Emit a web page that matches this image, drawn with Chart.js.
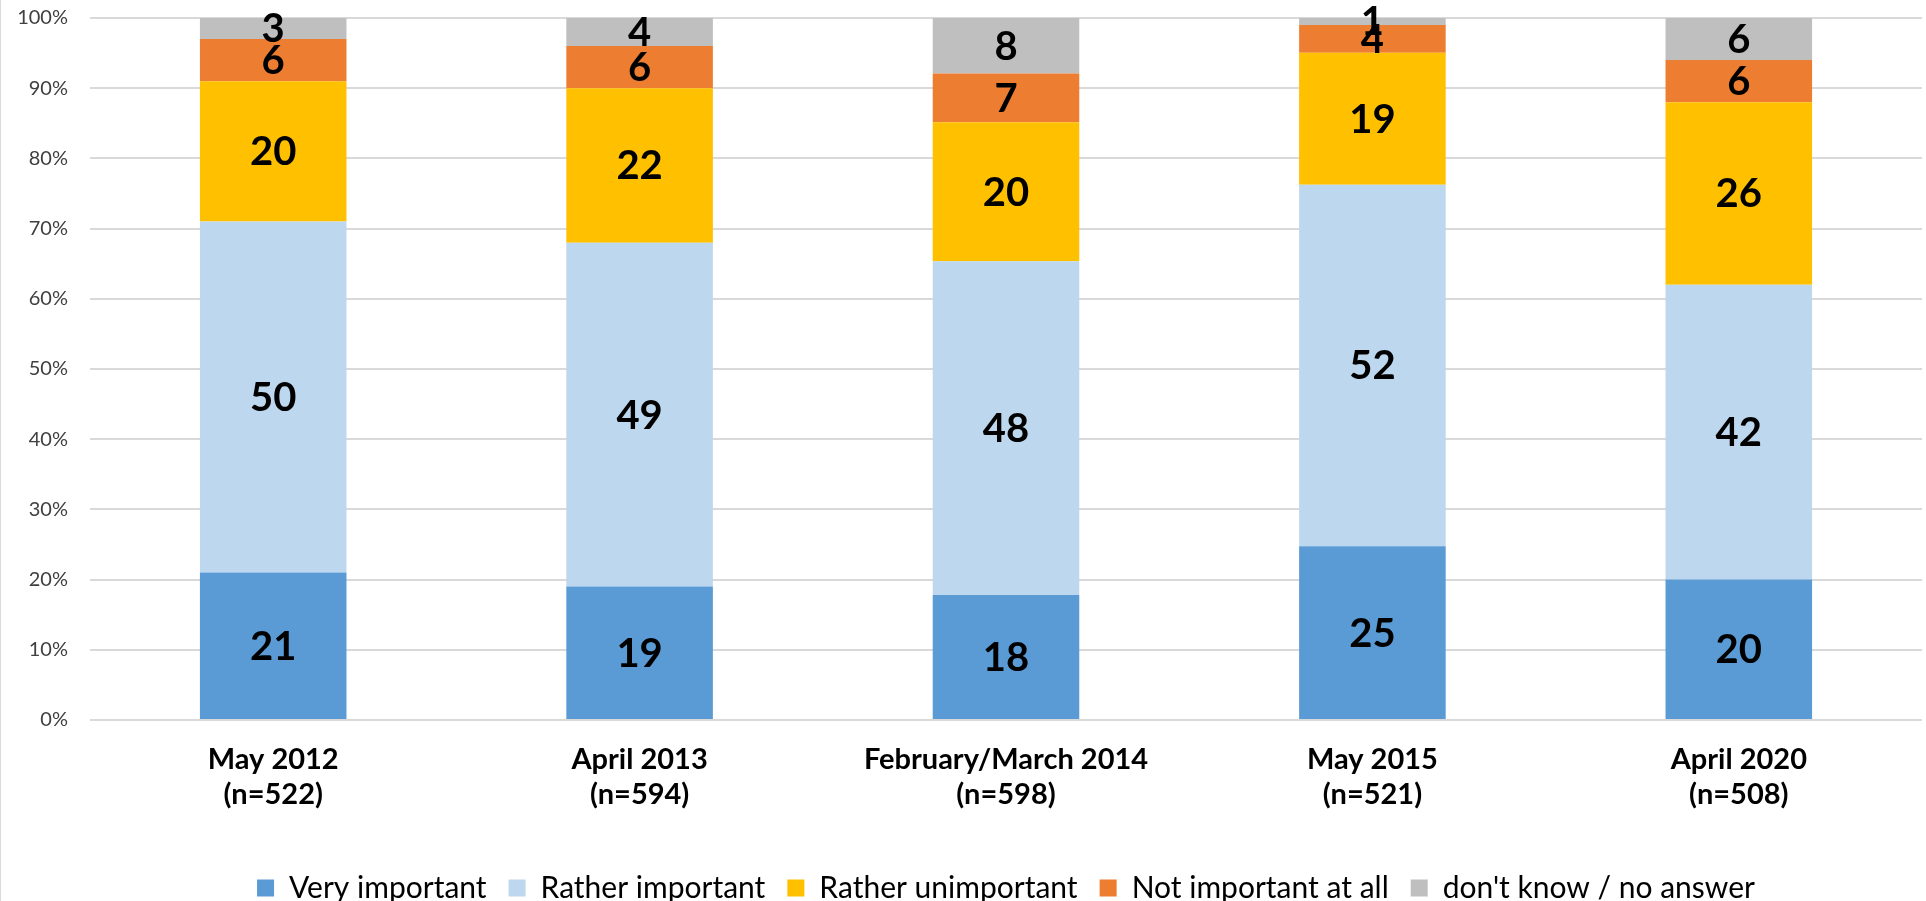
<!DOCTYPE html>
<html>
<head>
<meta charset="utf-8">
<script src="https://cdn.jsdelivr.net/npm/chart.js@4/dist/chart.umd.min.js"></script>
<style>
    html, body { margin: 0; padding: 0; background: #fff; }
    #wrap { width: 1926px; height: 901px; }
</style>
</head>
<body>
<div id="wrap"><canvas id="chart" width="1926" height="901"></canvas></div>
<script>
// survey waves (two-line axis labels)
const waves = [
    ['May 2012', '(n=522)'],
    ['April 2013', '(n=594)'],
    ['February/March 2014', '(n=598)'],
    ['May 2015', '(n=521)'],
    ['April 2020', '(n=508)']
];

const seriesNames = ['Very important', 'Rather important', 'Rather unimportant', 'Not important at all', "don't know / no answer"];

// percentages as printed on the bars
const veryImportant     = [21, 19, 18, 25, 20];
const ratherImportant   = [50, 49, 48, 52, 42];
const ratherUnimportant = [20, 22, 20, 19, 26];
const notImportant      = [6, 6, 7, 4, 6];
const dontKnow          = [3, 4, 8, 1, 6];

const yTicks = [0, 10, 20, 30, 40, 50, 60, 70, 80, 90, 100];

const colors = ['#5B9BD5', '#BDD7EE', '#FFC000', '#ED7D31', '#BFBFBF'];

const allSeries = [veryImportant, ratherImportant, ratherUnimportant, notImportant, dontKnow];

// 100% stacked: each column is scaled to its own total (like the original spreadsheet)
const totals = waves.map((w, i) => allSeries.reduce((s, arr) => s + arr[i], 0));
const share = (arr) => arr.map((v, i) => v / totals[i] * 100);

const FONT = 'Lato, "Open Sans", sans-serif';

// draws the raw number in the middle of each segment
const segmentLabels = {
    id: 'segmentLabels',
    beforeDraw(chart) {
        // thin frame line on the left edge, as in the exported chart
        const ctx = chart.ctx;
        ctx.save();
        ctx.strokeStyle = '#D9D9D9';
        ctx.lineWidth = 1;
        ctx.beginPath();
        ctx.moveTo(0.5, 0);
        ctx.lineTo(0.5, chart.height);
        ctx.stroke();
        ctx.restore();
    },
    afterDatasetsDraw(chart) {
        const ctx = chart.ctx;
        ctx.save();
        ctx.font = 'bold 40px ' + FONT;
        ctx.fillStyle = '#000';
        ctx.textAlign = 'center';
        ctx.textBaseline = 'middle';
        chart.data.datasets.forEach((ds, di) => {
            chart.getDatasetMeta(di).data.forEach((bar, i) => {
                const mid = (bar.y + bar.base) / 2;
                ctx.fillText(String(ds.raw[i]), bar.x, mid + 1);
            });
        });
        ctx.restore();
    }
};

new Chart(document.getElementById('chart'), {
    type: 'bar',
    data: {
        labels: waves,
        datasets: allSeries.map((arr, k) => ({
            label: seriesNames[k],
            data: share(arr),
            raw: arr,
            backgroundColor: colors[k],
            borderWidth: 0,
            barPercentage: 0.4,
            categoryPercentage: 1
        }))
    },
    options: {
        responsive: false,
        animation: false,
        layout: { padding: { top: 18, right: 4, left: 0, bottom: -12 } },
        scales: {
            x: {
                stacked: true,
                afterFit: (s) => { s.height = 131; },
                grid: { display: false },
                border: { display: false },
                ticks: {
                    color: '#000',
                    padding: 14,
                    maxRotation: 0,
                    font: { family: FONT, size: 29, weight: 'bold', lineHeight: 1.22 }
                }
            },
            y: {
                stacked: true,
                min: 0,
                max: 100,
                afterFit: (s) => { s.width = 90; s.paddingTop = 0; s.paddingBottom = 0; },
                afterBuildTicks: (s) => { s.ticks = yTicks.map(v => ({ value: v })); },
                grid: { color: '#D9D9D9', lineWidth: 2, drawTicks: false },
                border: { display: false },
                ticks: {
                    color: '#404040',
                    padding: 22,
                    font: { family: FONT, size: 20 },
                    callback: (v) => v + '%'
                }
            }
        },
        plugins: {
            legend: {
                position: 'bottom',
                fullSize: false,
                labels: {
                    color: '#000',
                    boxWidth: 17,
                    boxHeight: 17,
                    padding: 22,
                    font: { family: FONT, size: 30 }
                }
            },
            tooltip: { enabled: false }
        }
    },
    plugins: [segmentLabels]
});
</script>
</body>
</html>
